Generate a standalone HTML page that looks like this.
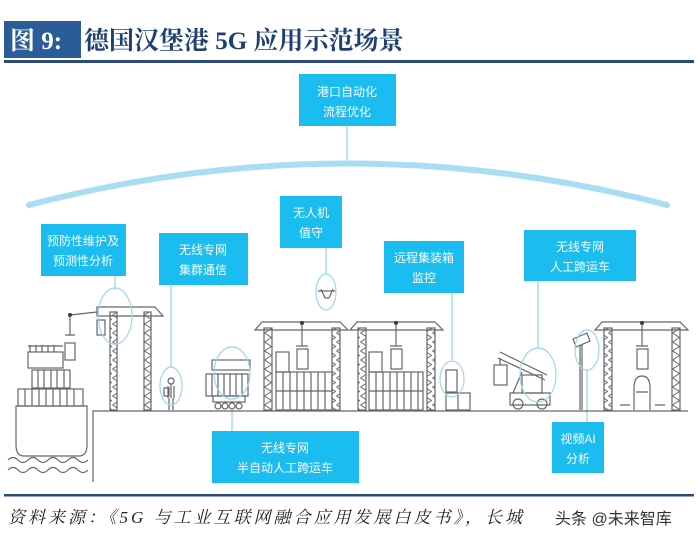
<!DOCTYPE html>
<html><head><meta charset="utf-8"><style>
html,body{margin:0;padding:0;background:#fff;}
svg{display:block;}
.bx{fill:#1bbcf0;}
.bt{fill:#fff;font-family:"Liberation Sans","Noto Sans CJK SC",sans-serif;font-size:12px;text-anchor:middle;}
.s{fill:none;stroke:#666;stroke-width:1.2;}
.lat{fill:url(#zz);stroke:#666;stroke-width:1.2;}
.c{fill:none;stroke:#9ad8ee;stroke-width:1.2;}
.ln{stroke:#8fd3ea;stroke-width:1.2;}
</style></head><body>
<svg width="700" height="547" viewBox="0 0 700 547" xmlns="http://www.w3.org/2000/svg">
<defs>
<pattern id="zz" width="8" height="9" patternUnits="userSpaceOnUse">
<path d="M0.5 0 L7.5 4.5 L0.5 9" fill="none" stroke="#666" stroke-width="1"/>
</pattern>
</defs>
<!-- title -->
<rect x="4" y="21" width="77" height="37" fill="#2a5d97"/>
<text x="10" y="49" fill="#fff" font-family="Liberation Serif,'Noto Serif CJK SC',serif" font-weight="bold" font-size="25">图 9:</text>
<text x="84" y="49" fill="#1d3f74" font-family="Liberation Serif,'Noto Serif CJK SC',serif" font-weight="bold" font-size="25">德国汉堡港 5G 应用示范场景</text>
<rect x="4" y="60" width="690" height="3" fill="#2b4a78"/>

<!-- top box and arc -->
<rect class="bx" x="299" y="74" width="97" height="52"/>
<text class="bt" x="347" y="96">港口自动化</text>
<text class="bt" x="347" y="116">流程优化</text>
<line class="ln" x1="347" y1="126" x2="347" y2="163"/>
<path d="M29 205 Q348 122 667 205" fill="none" stroke="#a9def2" stroke-width="6" stroke-linecap="round"/>

<!-- boxes -->
<rect class="bx" x="41" y="224" width="85" height="52"/>
<text class="bt" x="83" y="245">预防性维护及</text><text class="bt" x="83" y="265">预测性分析</text>
<rect class="bx" x="159" y="233" width="89" height="52"/>
<text class="bt" x="203" y="254">无线专网</text><text class="bt" x="203" y="274">集群通信</text>
<rect class="bx" x="280" y="196" width="62" height="52"/>
<text class="bt" x="311" y="217">无人机</text><text class="bt" x="311" y="237">值守</text>
<rect class="bx" x="384" y="241" width="80" height="52"/>
<text class="bt" x="424" y="262">远程集装箱</text><text class="bt" x="424" y="282">监控</text>
<rect class="bx" x="524" y="230" width="112" height="51"/>
<text class="bt" x="580" y="251">无线专网</text><text class="bt" x="580" y="271">人工跨运车</text>
<rect class="bx" x="212" y="431" width="147" height="52"/>
<text class="bt" x="285" y="452">无线专网</text><text class="bt" x="285" y="472">半自动人工跨运车</text>
<rect class="bx" x="552" y="422" width="52" height="51"/>
<text class="bt" x="578" y="443">视频AI</text><text class="bt" x="578" y="463">分析</text>

<!-- connectors -->
<line class="ln" x1="115" y1="276" x2="115" y2="290"/>
<line class="ln" x1="171" y1="285" x2="171" y2="367"/>
<line class="ln" x1="326" y1="248" x2="326" y2="274"/>
<line class="ln" x1="452" y1="293" x2="452" y2="360"/>
<line class="ln" x1="538" y1="281" x2="538" y2="348"/>
<line class="ln" x1="587" y1="370" x2="587" y2="422"/>
<line class="ln" x1="232" y1="410" x2="232" y2="431"/>

<!-- ground -->
<path class="s" d="M93 482 L93 411 L688 411"/>
<!-- ship -->
<path class="s" d="M16 406 L87 406 L87 445 Q87 455 80 456 L23 456 Q16 455 16 445 Z"/>
<path class="s" d="M8 460 q5 -5 10 0 t10 0 t10 0 t10 0 t10 0 t10 0 t10 0 t10 0 M8 470 q5 -5 10 0 t10 0 t10 0 t10 0 t10 0 t10 0 t10 0 t10 0"/>
<rect class="s" x="28" y="352" width="35" height="16"/>
<path class="s" d="M30 345 V352 M36 345 V352 M42 345 V352 M48 345 V352 M54 345 V352 M28 346 H63"/>
<rect class="s" x="65" y="343" width="10" height="17"/>
<rect class="s" x="32" y="370" width="38" height="18"/>
<path class="s" d="M38 370V388 M44 370V388 M51 370V388 M57 370V388 M64 370V388"/>
<rect class="s" x="18" y="389" width="65" height="17"/>
<path class="s" d="M25 389V406 M32 389V406 M39 389V406 M46 389V406 M53 389V406 M60 389V406 M67 389V406 M74 389V406"/>
<!-- ship crane -->
<rect x="110" y="312" width="7" height="98" class="lat"/>
<rect x="144" y="312" width="7" height="98" class="lat"/>
<path class="s" d="M97 307 L155 307 L163 316 L97 316 Z M97 312 L70 315"/>
<circle cx="70" cy="315" r="2" fill="#333"/>
<path class="s" d="M70 315 V335 M65 335 H75"/>
<rect class="s" x="97" y="320" width="8" height="15"/>
<ellipse class="c" cx="115" cy="316" rx="17" ry="28"/>
<!-- worker -->
<path class="s" d="M171 378 a3 3 0 1 0 0.1 0 M171 384 V398 M168 386 V398 M174 386 V398 M169 398 V410 M173 398 V410 M164 388 h5 v8 h-5 z"/>
<ellipse class="c" cx="171" cy="386" rx="11" ry="19"/>
<!-- truck -->
<rect class="s" x="212" y="360" width="38" height="10"/>
<rect class="s" x="206" y="374" width="42" height="22"/>
<path class="s" d="M212 374V396 M218 374V396 M224 374V396 M230 374V396 M236 374V396 M242 374V396"/>
<rect class="s" x="213" y="396" width="32" height="6"/>
<circle class="s" cx="218" cy="406" r="3"/><circle class="s" cx="225" cy="406" r="3"/><circle class="s" cx="232" cy="406" r="3"/><circle class="s" cx="239" cy="406" r="3"/>
<ellipse class="c" cx="232" cy="373" rx="18" ry="26"/>
<!-- drone -->
<path class="s" d="M318 291 H336 M321 289 L325 298 M333 289 L329 298 M325 298 H329"/>
<ellipse class="c" cx="326" cy="292" rx="10" ry="18"/>

<!-- gantry 2 -->
<g>
<path class="s" d="M262 322 L340 322 L348 330 L255 330 Z"/>
<rect x="264" y="328" width="8" height="82" class="lat"/>
<rect x="332" y="328" width="8" height="82" class="lat"/>
<circle cx="302" cy="323" r="2" fill="#333"/>
<path class="s" d="M302 323 V346 M296 346 H308"/>
<rect class="s" x="297" y="349" width="11" height="20"/>
<rect class="s" x="276" y="352" width="13" height="20"/>
<rect class="s" x="276" y="372" width="56" height="38"/>
<path class="s" d="M276 391H332 M283 372V410 M290 372V410 M297 372V410 M304 372V410 M311 372V410 M318 372V410 M325 372V410"/>
</g>
<!-- gantry 3 -->
<g>
<path class="s" d="M357 322 L435 322 L443 330 L350 330 Z"/>
<rect x="358" y="328" width="8" height="82" class="lat"/>
<rect x="427" y="328" width="8" height="82" class="lat"/>
<circle cx="396" cy="323" r="2" fill="#333"/>
<path class="s" d="M396 323 V346 M390 346 H402"/>
<rect class="s" x="391" y="349" width="11" height="20"/>
<rect class="s" x="369" y="352" width="13" height="20"/>
<rect class="s" x="369" y="372" width="54" height="38"/>
<path class="s" d="M369 391H423 M376 372V410 M383 372V410 M390 372V410 M397 372V410 M404 372V410 M411 372V410 M418 372V410"/>
</g>
<!-- container monitor -->
<rect class="s" x="446" y="370" width="11" height="22"/>
<rect class="s" x="446" y="393" width="24" height="17"/>
<path class="s" d="M458 393V410"/>
<ellipse class="c" cx="452" cy="379" rx="12" ry="18"/>
<!-- reach stacker -->
<path class="s" d="M498 358 L545 380 M500 352 L547 375"/>
<rect class="s" x="494" y="365" width="13" height="20"/>
<path class="s" d="M500 358 V365 M513 393 L522 372"/>
<rect class="s" x="522" y="375" width="20" height="18"/>
<path class="s" d="M510 393 H550 V405 H510 Z"/>
<circle class="s" cx="518" cy="404" r="5"/><circle class="s" cx="542" cy="404" r="5"/>
<ellipse class="c" cx="538" cy="375" rx="18" ry="27"/>
<!-- camera -->
<path class="s" d="M580 345 V410 M582 345 V410"/>
<path class="s" d="M573 339 L587 333 L590 341 L576 347 Z"/>
<ellipse class="c" cx="587" cy="350" rx="12" ry="20"/>
<!-- gantry 4 -->
<g>
<path class="s" d="M602 322 L680 322 L688 330 L595 330 Z"/>
<rect x="604" y="328" width="8" height="82" class="lat"/>
<rect x="672" y="328" width="8" height="82" class="lat"/>
<circle cx="642" cy="323" r="2" fill="#333"/>
<path class="s" d="M642 323 V346 M636 346 H648"/>
<rect class="s" x="637" y="349" width="11" height="20"/>
<path class="s" d="M634 410 V388 Q634 376 642 376 Q650 376 650 388 V410 M636 392 H648 M620 405 H630 M655 405 H665"/>
</g>

<!-- footer -->
<rect x="4" y="494" width="690" height="2.5" fill="#2b4a78"/>
<text x="8" y="523" fill="#222" font-family="Liberation Serif,'Noto Serif CJK SC',serif" font-style="italic" font-size="17" letter-spacing="3">资料来源：《5G 与工业互联网融合应用发展白皮书》，长城</text>
<text x="555" y="524" fill="#333" font-family="Liberation Sans,'Noto Sans CJK SC',sans-serif" font-size="16">头条 @未来智库</text>
</svg>
</body></html>
